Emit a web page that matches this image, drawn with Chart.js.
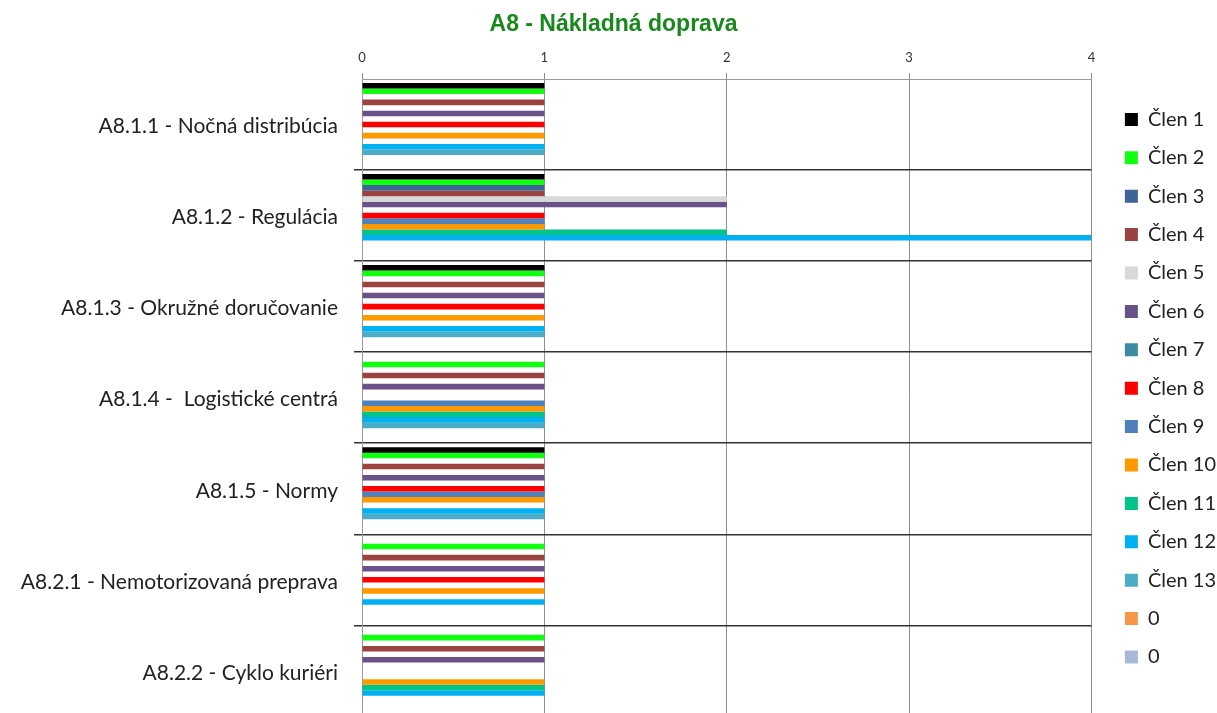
<!DOCTYPE html>
<html>
<head>
<meta charset="utf-8">
<script src="https://cdn.jsdelivr.net/npm/chart.js@4.4.1/dist/chart.umd.min.js"></script>
<style>
  html, body { margin: 0; padding: 0; background: #fff; overflow: hidden; }
  canvas { display: block; }
</style>
</head>
<body>
<canvas id="chart" width="1217" height="745"></canvas>
<script>
// categories (top to bottom)
const categories = [
    'A8.1.1 - Nočná distribúcia',
    'A8.1.2 - Regulácia',
    'A8.1.3 - Okružné doručovanie',
    'A8.1.4 -  Logistické centrá',
    'A8.1.5 - Normy',
    'A8.2.1 - Nemotorizovaná preprava',
    'A8.2.2 - Cyklo kuriéri'
];

const seriesNames = ['Člen 1', 'Člen 2', 'Člen 3', 'Člen 4', 'Člen 5', 'Člen 6', 'Člen 7',
    'Člen 8', 'Člen 9', 'Člen 10', 'Člen 11', 'Člen 12', 'Člen 13', '0', '0'];

// values per member, one per category (null = no bar)
const clen1  = [1, 1, 1, null, 1, null, null];
const clen2  = [1, 1, 1, 1, 1, 1, 1];
const clen3  = [null, 1, null, null, null, null, null];
const clen4  = [1, 1, 1, 1, 1, 1, 1];
const clen5  = [null, 2, null, null, null, null, null];
const clen6  = [1, 2, 1, 1, 1, 1, 1];
const clen7  = [null, null, null, null, null, null, null];
const clen8  = [1, 1, 1, null, 1, 1, null];
const clen9  = [null, 1, null, 1, 1, null, null];
const clen10 = [1, 1, 1, 1, 1, 1, 1];
const clen11 = [null, 2, null, 1, null, null, 1];
const clen12 = [1, 4, 1, 1, 1, 1, 1];
const clen13 = [1, null, 1, 1, 1, null, null];
const zeroA  = [null, null, null, null, null, null, null];
const zeroB  = [null, null, null, null, null, null, null];

const xTicks = [0, 1, 2, 3, 4];

const seriesValues = [clen1, clen2, clen3, clen4, clen5, clen6, clen7,
    clen8, clen9, clen10, clen11, clen12, clen13, zeroA, zeroB];

const colors = ['#000000', '#10ff10', '#3f6598', '#9b4341', '#d9d9d9', '#6b5189', '#3b8ba1',
    '#ff0000', '#4f81bd', '#ff9900', '#00c48a', '#00b0f0', '#4bacc6', '#f79646', '#a7b8d9'];

const labelFont = 'Lato, "Open Sans", sans-serif';

const datasets = seriesNames.map((name, i) => ({
    label: name,
    data: seriesValues[i],
    backgroundColor: colors[i],
    borderWidth: 0,
    categoryPercentage: 0.913,
    barPercentage: 1.0
}));

// nudge legend and title after layout
const boxShift = {
    id: 'boxShift',
    afterLayout(chart) {
        if (chart.legend) {
            chart.legend.left += 15;
            chart.legend.right += 15;
        }
        if (chart.titleBlock) {
            chart.titleBlock.left += 8;
            chart.titleBlock.right += 8;
        }
    }
};

const ctx = document.getElementById('chart').getContext('2d');
new Chart(ctx, {
    type: 'bar',
    data: { labels: categories, datasets: datasets },
    plugins: [boxShift],
    options: {
        indexAxis: 'y',
        responsive: false,
        animation: false,
        layout: { padding: { left: 0, right: 6, top: 0, bottom: 6 } },
        plugins: {
            title: {
                display: true,
                text: 'A8 - Nákladná doprava',
                color: '#17891a',
                font: { family: '"Liberation Sans", Arial, sans-serif', size: 23, weight: 'bold' },
                padding: { top: 11, bottom: 4 }
            },
            legend: {
                position: 'right',
                align: 'start',
                title: { display: true, text: ' ', font: { size: 10 }, padding: { top: 79, bottom: 0 } },
                labels: {
                    boxWidth: 13,
                    boxHeight: 13,
                    padding: 18.4,
                    color: '#222',
                    font: { family: labelFont, size: 20 }
                }
            },
            tooltip: { enabled: false }
        },
        scales: {
            x: {
                position: 'top',
                min: 0,
                max: 4,
                afterBuildTicks: scale => { scale.ticks = xTicks.map(v => ({ value: v })); },
                afterFit: scale => { scale.height = 36.4; },
                ticks: { color: '#333', font: { family: labelFont, size: 13 }, padding: 7 },
                grid: { color: '#8f8f8f', lineWidth: 1, tickLength: 6 },
                border: { color: '#9a9a9a' }
            },
            y: {
                afterFit: scale => { scale.width = 362; },
                ticks: { color: '#222', font: { family: labelFont, size: 21 }, padding: 16, labelOffset: 2 },
                grid: {
                    offset: true,
                    tickLength: 8,
                    lineWidth: 1.5,
                    color: c => c.index === 0 ? 'rgba(0,0,0,0)' : '#333'
                },
                border: { color: '#9a9a9a' }
            }
        }
    }
});
</script>
</body>
</html>
